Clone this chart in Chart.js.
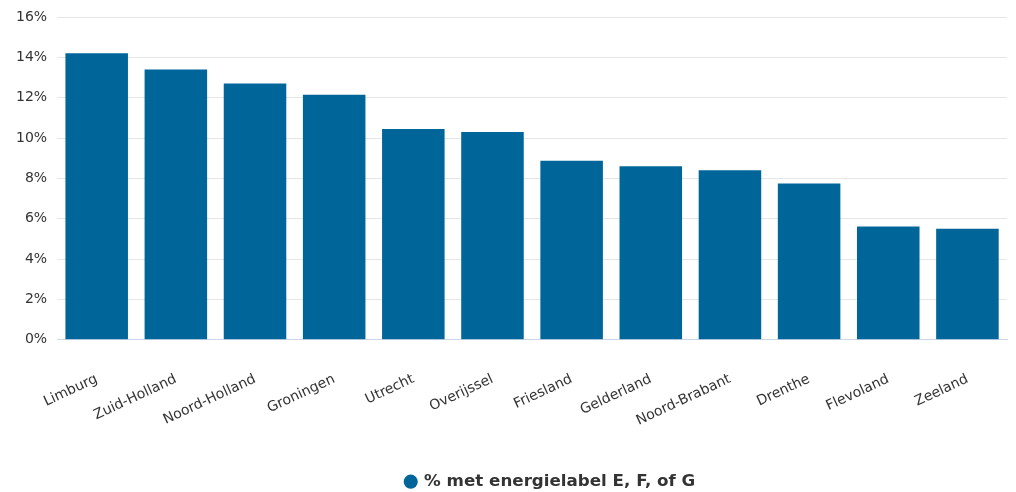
<!DOCTYPE html>
<html>
<head>
<meta charset="utf-8">
<script src="https://cdn.jsdelivr.net/npm/chart.js@4/dist/chart.umd.min.js"></script>
<style>
html,body{margin:0;padding:0;background:#fff;}
#wrap{width:1016px;height:492px;position:relative;}
</style>
</head>
<body>
<div id="wrap"><canvas id="c" width="1016" height="492"></canvas></div>
<script>
const categories = ["Limburg","Zuid-Holland","Noord-Holland","Groningen","Utrecht","Overijssel","Friesland","Gelderland","Noord-Brabant","Drenthe","Flevoland","Zeeland"];
const seriesName = "% met energielabel E, F, of G";
const values = [14.2, 13.4, 12.7, 12.15, 10.45, 10.3, 8.87, 8.6, 8.4, 7.75, 5.62, 5.5];
const yTicks = [0, 2, 4, 6, 8, 10, 12, 14, 16];

const FONT = "'DejaVu Sans', Verdana, sans-serif";
const legendShift = {
  id: 'legendShift',
  afterLayout(chart) {
    const lg = chart.legend;
    if (lg) { lg.left += 44; lg.right += 44; lg.top += 8; lg.bottom += 8; }
  }
};
new Chart(document.getElementById('c'), {
  type: 'bar',
  data: {
    labels: categories,
    datasets: [{
      label: seriesName,
      data: values,
      backgroundColor: '#006699',
      borderWidth: 0,
      categoryPercentage: 1,
      barPercentage: 0.79
    }]
  },
  options: {
    responsive: false,
    animation: false,
    layout: { padding: { top: 6, right: 9, left: 6, bottom: 0 } },
    plugins: {
      tooltip: { enabled: false },
      legend: {
        position: 'bottom',
        labels: {
          usePointStyle: true,
          pointStyle: 'circle',
          boxWidth: 10,
          boxHeight: 10,
          color: '#333333',
          font: { family: FONT, size: 16.7, weight: 'bold' },
          padding: 4
        }
      }
    },
    scales: {
      x: {
        grid: { display: false, drawTicks: false },
        border: { color: '#ccd6eb', width: 1 },
        ticks: {
          color: '#333333',
          font: { family: FONT, size: 14 },
          minRotation: 25,
          maxRotation: 25,
          padding: 31,
          autoSkip: false
        },
        afterFit: (s) => { s.height += 1; }
      },
      y: {
        min: 0,
        max: 16,
        afterBuildTicks: (s) => { s.ticks = yTicks.map(v => ({ value: v })); },
        grid: { color: '#e6e6e6', drawTicks: false },
        border: { display: false },
        ticks: {
          color: '#333333',
          font: { family: FONT, size: 14, lineHeight: 1 },
          padding: 10,
          callback: (v) => v + '%'
        }
      }
    }
  },
  plugins: [legendShift]
});
</script>
</body>
</html>
